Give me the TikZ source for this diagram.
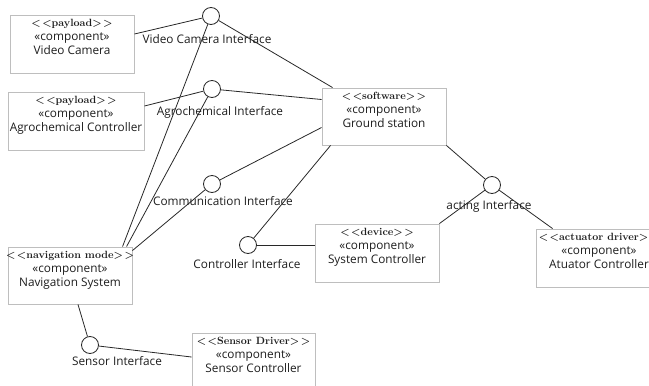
\documentclass[tikz,border=0pt]{standalone}
\usepackage{fontspec}
\setsansfont{Open Sans}
\newcommand\stereo[1]{{\rmfamily\bfseries\fontsize{10.5}{14}\selectfont <\hspace{1.5pt}<#1>\hspace{1.5pt}>}}
\definecolor{boxgray}{RGB}{190,190,190}
\definecolor{linegray}{RGB}{40,40,40}
\definecolor{txt}{RGB}{30,30,30}
\tikzset{
  compbox/.style={draw=boxgray, line width=0.9pt, fill=white, inner sep=0pt},
  boxtext/.style={anchor=north, align=center, inner sep=0pt, text=txt,
    font=\sffamily\fontsize{11.8}{14}\selectfont},
  iface/.style={circle, draw=linegray, line width=0.8pt, fill=white, minimum size=17pt, inner sep=0pt},
  lab/.style={inner sep=0pt, text=txt, font=\sffamily\fontsize{11.8}{13}\selectfont},
  conn/.style={draw=linegray, line width=0.8pt}
}
\begin{document}
\begin{tikzpicture}[x=1pt,y=-1pt]
\clip (0,0) rectangle (649,386);
\useasboundingbox (0,0) rectangle (649,386);
% boxes
\node[compbox, minimum width=124pt, minimum height=58pt] (vc) at (72,44) {};
\node[compbox, minimum width=136pt, minimum height=58pt] (agro) at (76,121) {};
\node[compbox, minimum width=124pt, minimum height=57pt] (gs) at (384,116.5) {};
\node[compbox, minimum width=124pt, minimum height=58pt] (sc) at (377,253) {};
\node[compbox, minimum width=126pt, minimum height=58pt] (ac) at (599,258) {};
\node[compbox, minimum width=124pt, minimum height=57pt] (nav) at (70,275.5) {};
\node[compbox, minimum width=123pt, minimum height=58pt] (sec) at (253.5,362) {};
% interfaces
\node[iface] (vci) at (211,16) {};
\node[iface] (agci) at (212,89) {};
\node[iface] (comci) at (212,184) {};
\node[iface] (ctrli) at (248,245) {};
\node[iface] (acti) at (492,185) {};
\node[iface] (seni) at (90,345) {};
% connectors
\path[conn] ([yshift=10pt]vc.east) -- (vci);
\path[conn] (vci) -- ([xshift=11pt]gs.north west);
\path[conn] (vci) -- ([xshift=115pt]nav.north west);
\path[conn] ([yshift=15pt]agro.east) -- (agci);
\path[conn] (agci) -- ([yshift=17pt]gs.west);
\path[conn] (agci) -- ([xshift=119pt]nav.north west);
\path[conn] (comci) -- ([yshift=-4pt]nav.north east);
\path[conn] (comci) -- ([yshift=-11pt]gs.west);
\path[conn] (ctrli) -- ([xshift=9pt]gs.south west);
\path[conn] (ctrli.east) -- (ctrli.east -| sc.west);
\path[conn] (gs.south east) -- (acti);
\path[conn] (acti) -- (sc.north east);
\path[conn] (acti) -- ([xshift=17pt]ac.north west);
\path[conn] ([xshift=8pt]nav.south) -- (seni);
\path[conn] (seni) -- ([yshift=5pt]sec.west);
% box texts
\node[boxtext] (vct) at ([yshift=-4pt]vc.north) {\stereo{payload}\\«component»\\Video Camera};
\node[boxtext] (agrot) at ([yshift=-4pt]agro.north) {\stereo{payload}\\«component»\\Agrochemical Controller};
\node[boxtext] (gst) at ([yshift=-4pt]gs.north) {\stereo{software}\\«component»\\Ground station};
\node[boxtext] (sct) at ([yshift=-4pt]sc.north) {\stereo{device}\\«component»\\System Controller};
\node[boxtext] (act) at ([yshift=-4pt]ac.north) {\stereo{actuator driver}\\«component»\\Atuator Controller};
\node[boxtext] (navt) at ([yshift=-4pt]nav.north) {\stereo{navigation mode}\\«component»\\Navigation System};
\node[boxtext] (sect) at ([yshift=-4pt]sec.north) {\stereo{Sensor Driver}\\«component»\\Sensor Controller};
% interface labels
\node[lab] (vcil) at (207,39) {Video Camera Interface};
\node[lab] (agcil) at (220,112) {Agrochemical Interface};
\node[lab] (comcil) at (223,201) {Communication Interface};
\node[lab] (ctrlil) at (247,264) {Controller Interface};
\node[lab] (actil) at (489,206) {acting Interface};
\node[lab] (senil) at (117,361) {Sensor Interface};
\end{tikzpicture}
\end{document}
